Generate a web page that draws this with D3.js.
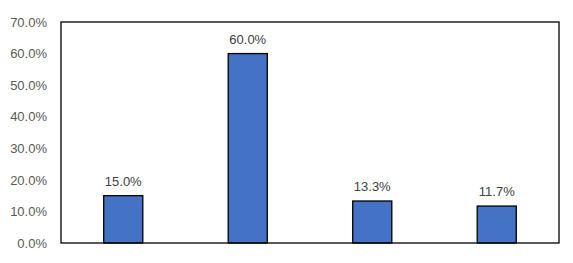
<!DOCTYPE html>
<html><head><meta charset="utf-8">
<script src="https://cdn.jsdelivr.net/npm/d3@7"></script>
<style>body{margin:0;background:#fff;}svg{display:block;}</style>
</head><body>
<svg id="c" width="573" height="263"></svg>
<script>
const categories = ["A", "B", "C", "D"];
const values = [15.0, 60.0, 13.3, 11.7];
const yTicks = [0, 10, 20, 30, 40, 50, 60, 70];

const svg = d3.select("#c");
const m = {left: 61, top: 22, right: 14, bottom: 20};
const W = 573, H = 263;
const x = d3.scaleBand().domain(categories).range([m.left, W - m.right]).paddingInner(0.686).paddingOuter(0.343);
const y = d3.scaleLinear().domain([0, 70]).range([H - m.bottom, m.top]);
const font = "'Liberation Sans', Arial, sans-serif";

const yAxis = svg.append("g").attr("transform", `translate(${m.left},0)`)
  .call(d3.axisLeft(y).tickValues(yTicks).tickSize(0).tickPadding(14).tickFormat(d => d.toFixed(1) + "%"));
yAxis.select(".domain").remove();
yAxis.selectAll("text").attr("fill", "#595959").style("font-family", font).style("font-size", "13px");

svg.append("g").selectAll("rect").data(values).join("rect")
  .attr("x", (d, i) => x(categories[i]))
  .attr("y", d => y(d))
  .attr("width", x.bandwidth())
  .attr("height", d => y(0) - y(d))
  .attr("fill", "#4472C4").attr("stroke", "#000").attr("stroke-width", 1.3);

svg.append("g").selectAll("text").data(values).join("text")
  .attr("x", (d, i) => x(categories[i]) + x.bandwidth() / 2)
  .attr("y", d => y(d) - 10)
  .attr("text-anchor", "middle")
  .attr("fill", "#404040").style("font-family", font).style("font-size", "13px")
  .text(d => d.toFixed(1) + "%");

svg.append("rect").attr("x", m.left).attr("y", m.top)
  .attr("width", W - m.right - m.left).attr("height", H - m.bottom - m.top)
  .attr("fill", "none").attr("stroke", "#000").attr("stroke-width", 1.3);
</script>
</body></html>
